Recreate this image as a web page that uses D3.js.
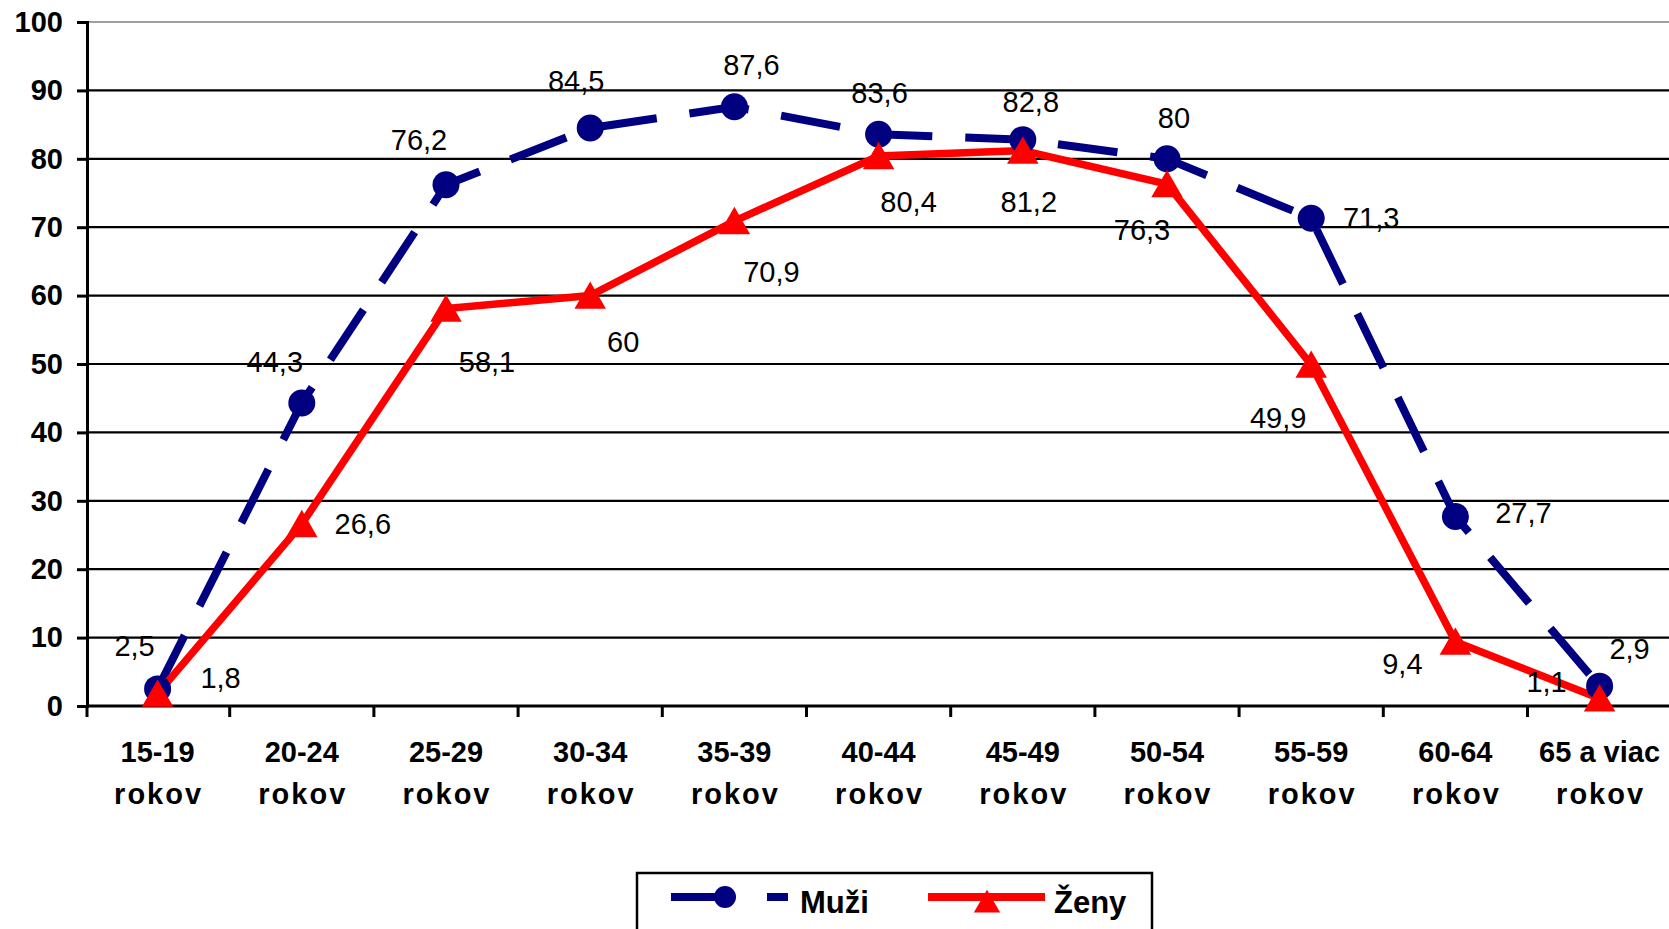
<!DOCTYPE html>
<html>
<head>
<meta charset="utf-8">
<script src="https://cdn.jsdelivr.net/npm/d3@7"></script>
<style>
html,body{margin:0;padding:0;background:#fff;overflow:hidden;}
svg{display:block;font-family:"Liberation Sans",Arial,sans-serif;}
</style>
</head>
<body>
<svg id="chart" width="1669" height="929"></svg>
<script>
// ---- data ----
const categories = ["15-19 rokov","20-24 rokov","25-29 rokov","30-34 rokov","35-39 rokov","40-44 rokov","45-49 rokov","50-54 rokov","55-59 rokov","60-64 rokov","65 a viac rokov"];
const categoryLine1 = ["15-19","20-24","25-29","30-34","35-39","40-44","45-49","50-54","55-59","60-64","65 a viac"];
const categoryLine2 = ["rokov","rokov","rokov","rokov","rokov","rokov","rokov","rokov","rokov","rokov","rokov"];
const muzi = [2.5, 44.3, 76.2, 84.5, 87.6, 83.6, 82.8, 80, 71.3, 27.7, 2.9];
const zeny = [1.8, 26.6, 58.1, 60, 70.9, 80.4, 81.2, 76.3, 49.9, 9.4, 1.1];
const muziLabels = ["2,5","44,3","76,2","84,5","87,6","83,6","82,8","80","71,3","27,7","2,9"];
const zenyLabels = ["1,8","26,6","58,1","60","70,9","80,4","81,2","76,3","49,9","9,4","1,1"];
const yTicks = [0,10,20,30,40,50,60,70,80,90,100];
const seriesNames = ["Muži","Ženy"];

// label offsets (layout only)
const muziLabelOffsets = [[-23,-43],[-27,-41],[-27,-45],[-14,-47],[17,-42],[1,-41],[8,-38],[7,-41],[60,0],[68,-4],[30,-37]];
const zenyLabelOffsets = [[63,-16],[61,0],[41,53],[33,46],[37,51],[30,46],[6,51],[-25,46],[-33,53],[-53,22],[-53,-16]];

(function(){
const svg = d3.select("#chart");
const pLeft = 87, pRight = 87 + 11*144.2, pTop = 22, pBottom = 706;

const x = d3.scaleBand().domain(categories).range([pLeft - 1.5, pRight - 1.5]);
const y = d3.scaleLinear().domain([0,100]).range([pBottom, pTop]);
const cx = i => x(categories[i]) + x.bandwidth()/2;

// gridlines
svg.append("g").selectAll("line").data(yTicks.filter(t => t > 0)).join("line")
  .attr("x1", pLeft).attr("x2", pRight)
  .attr("y1", d => y(d)).attr("y2", d => y(d))
  .attr("stroke", d => d === 100 ? "#a0a0a0" : "#000")
  .attr("stroke-width", 2.2);

// y axis
const yAxis = d3.axisLeft(y).tickValues(yTicks).tickSize(10).tickPadding(14).tickFormat(d3.format("d"));
const gy = svg.append("g").attr("transform", `translate(${pLeft},0)`).call(yAxis);
gy.select(".domain").attr("stroke","#000").attr("stroke-width",3);
gy.selectAll(".tick line").attr("stroke","#000").attr("stroke-width",3);
gy.selectAll(".tick text").attr("font-size",29).attr("font-weight","bold").attr("fill","#000")
  .attr("font-family","'Liberation Sans',Arial,sans-serif");

// x axis
const xAxis = d3.axisBottom(x).tickSize(0).tickFormat("");
const gx = svg.append("g").attr("transform", `translate(0,${pBottom})`).call(xAxis);
gx.select(".domain").attr("stroke","#000").attr("stroke-width",3).attr("d", `M${pLeft},0H${pRight}`);
gx.selectAll(".tick").remove();
const boundaries = d3.range(1, categories.length + 1).map(i => i === categories.length ? pRight : x(categories[i]));
svg.append("g").selectAll("line").data(boundaries).join("line")
  .attr("x1", d => d).attr("x2", d => d).attr("y1", pBottom).attr("y2", pBottom + 11)
  .attr("stroke","#000").attr("stroke-width",3);
svg.append("line").attr("x1",pLeft).attr("x2",pLeft).attr("y1",pBottom).attr("y2",pBottom+11)
  .attr("stroke","#000").attr("stroke-width",3);

// x labels
const xl = svg.append("g").attr("font-size",29).attr("font-weight","bold").attr("text-anchor","middle");
xl.selectAll("text.l1").data(categoryLine1).join("text").attr("class","l1")
  .attr("x",(d,i)=>cx(i)).attr("y",762).text(d=>d);
xl.selectAll("text.l2").data(categoryLine2).join("text").attr("class","l2")
  .attr("x",(d,i)=>cx(i)+1).attr("y",804).attr("letter-spacing",2).text(d=>d);

// lines
const line = d3.line().x((d,i)=>cx(i)).y(d=>y(d));
svg.append("path").datum(muzi).attr("d", line).attr("fill","none")
  .attr("stroke","#000080").attr("stroke-width",8).attr("stroke-dasharray","60,33");
svg.append("path").datum(zeny).attr("d", line).attr("fill","none")
  .attr("stroke","#ff0000").attr("stroke-width",7.5).attr("stroke-linejoin","miter");

// markers
svg.append("g").selectAll("circle").data(muzi).join("circle")
  .attr("cx",(d,i)=>cx(i)).attr("cy",d=>y(d)).attr("r",13.5).attr("fill","#000080");
const tri = d3.symbol().type(d3.symbolTriangle).size(430);
svg.append("g").selectAll("path").data(zeny).join("path")
  .attr("d", tri).attr("transform",(d,i)=>`translate(${cx(i)},${y(d)+4})`).attr("fill","#ff0000");

// data labels
const dl = svg.append("g").attr("font-size",29).attr("text-anchor","middle").attr("dominant-baseline","central").attr("fill","#000");
dl.selectAll("text.m").data(muzi).join("text").attr("class","m")
  .attr("x",(d,i)=>cx(i)+muziLabelOffsets[i][0]).attr("y",(d,i)=>y(d)+muziLabelOffsets[i][1]).text((d,i)=>muziLabels[i]);
dl.selectAll("text.z").data(zeny).join("text").attr("class","z")
  .attr("x",(d,i)=>cx(i)+zenyLabelOffsets[i][0]).attr("y",(d,i)=>y(d)+zenyLabelOffsets[i][1]).text((d,i)=>zenyLabels[i]);

// legend
const lg = svg.append("g");
lg.append("rect").attr("x",637).attr("y",873).attr("width",515).attr("height",80)
  .attr("fill","#fff").attr("stroke","#000").attr("stroke-width",2.5);
lg.append("line").attr("x1",671).attr("x2",725).attr("y1",897).attr("y2",897).attr("stroke","#000080").attr("stroke-width",8);
lg.append("line").attr("x1",767).attr("x2",788).attr("y1",897).attr("y2",897).attr("stroke","#000080").attr("stroke-width",8);
lg.append("circle").attr("cx",725).attr("cy",897).attr("r",11).attr("fill","#000080");
lg.append("text").attr("x",800).attr("y",913).attr("font-size",31).attr("font-weight","bold").text(seriesNames[0]);
lg.append("line").attr("x1",928).attr("x2",1045).attr("y1",897).attr("y2",897).attr("stroke","#ff0000").attr("stroke-width",8);
lg.append("path").attr("d", d3.symbol().type(d3.symbolTriangle).size(300)).attr("transform","translate(987,905)").attr("fill","#ff0000");
lg.append("text").attr("x",1054).attr("y",913).attr("font-size",31).attr("font-weight","bold").text(seriesNames[1]);
})();
</script>
</body>
</html>
